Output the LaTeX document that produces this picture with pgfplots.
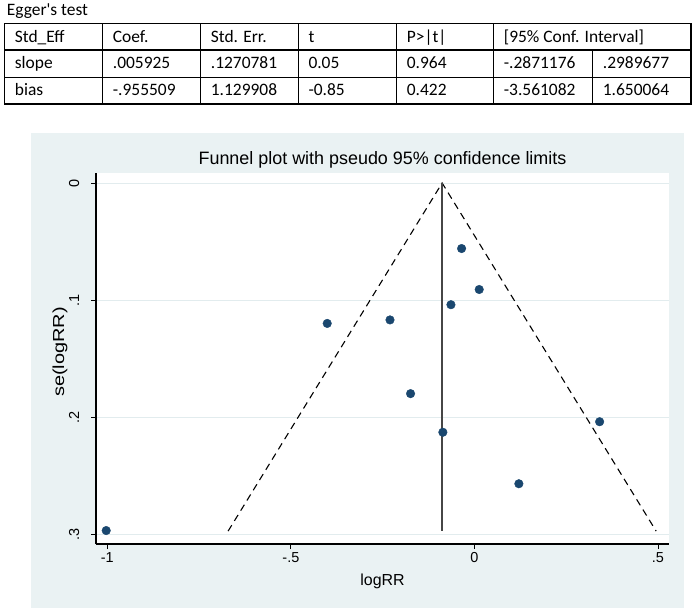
\documentclass[border=0pt]{standalone}
\usepackage{fontspec}
\setmainfont{Carlito}[Ligatures=TeXOff]
\newfontfamily\arial{Liberation Sans}
\usepackage{graphicx}
\usepackage{pgfplots}
\pgfplotsset{compat=1.18}
\definecolor{bgc}{RGB}{234,242,243}
\definecolor{gridc}{RGB}{226,236,238}
\definecolor{navy}{RGB}{26,71,111}
\definecolor{vline}{RGB}{70,70,70}
\begin{document}
\begin{tikzpicture}[x=1bp,y=-1bp]
\path[use as bounding box, fill=white] (0,0) rectangle (696,614);
% Egger's test table
\node[anchor=base west, inner sep=0, font=\fontsize{17.5}{19}\selectfont] at (6.7,15.5) {Egger's test};
\begin{scope}[line width=1.1bp]
\draw (4.7,23.3) rectangle (691,104);
\draw (4.7,50) -- (691,50);
\draw (4.7,77.3) -- (691,77.3);
\foreach \cx in {102.7,200.7,298.3,396.7,493.7} \draw (\cx,23.3) -- (\cx,104);
\draw (592.7,50) -- (592.7,104);
\end{scope}
\begin{scope}[every node/.style={anchor=base west, inner sep=0, font=\fontsize{17.5}{19}\selectfont}]
\node at (14.7,42.3) {Std\_Eff};
\node at (112.7,42.3) {Coef.};
\node at (210.7,42.3) {Std. Err.};
\node at (308.3,42.3) {t};
\node at (406.7,42.3) {P>|t|};
\node at (503.7,42.3) {[95\% Conf. Interval]};
\node at (14.7,69) {slope};
\node at (112.7,69) {.005925};
\node at (210.7,69) {.1270781};
\node at (308.3,69) {0.05};
\node at (406.7,69) {0.964};
\node at (503.7,69) {-.2871176};
\node at (602.7,69) {.2989677};
\node at (14.7,96) {bias};
\node at (112.7,96) {-.955509};
\node at (210.7,96) {1.129908};
\node at (308.3,96) {-0.85};
\node at (406.7,96) {0.422};
\node at (503.7,96) {-3.561082};
\node at (602.7,96) {1.650064};
\end{scope}
% graph region
\fill[bgc] (31,133) rectangle (684,608);
\node[anchor=base, inner sep=0, font=\arial\fontsize{18}{20}\selectfont] at (382.5,165) {Funnel plot with pseudo 95\% confidence limits};
\node[anchor=base, inner sep=0, font=\arial\fontsize{16}{18}\selectfont] at (382.5,585) {logRR};
\node[anchor=base, inner sep=0, rotate=90, font=\arial\fontsize{16}{18}\selectfont] at (64,352) {\scalebox{1.25}[1]{se(logRR)}};
\begin{axis}[
  at={(96bp,-544bp)}, anchor=south west,
  scale only axis, width=573bp, height=371bp,
  xmin=-1.0308, xmax=0.530, ymin=-0.3085, ymax=0.00855,
  y filter/.expression={-y},
  axis x line*=bottom, axis y line*=left,
  axis line style={line width=1.3bp, draw=black},
  axis background/.style={fill=white},
  tick align=outside, major tick length=5bp,
  tick style={black, line width=0.8bp},
  xtick={-1,-0.5,0,0.5}, xticklabels={-1,-.5,0,.5},
  ytick={-0.3,-0.2,-0.1,0}, yticklabels={.3,.2,.1,0},
  ymajorgrids, major grid style={gridc, line width=1bp},
  tick label style={font=\arial\fontsize{14.5}{16}\selectfont},
  yticklabel style={rotate=90, anchor=base, yshift=12bp},
  clip=false,
]
% se(logRR) values are given as positive numbers; the y filter plots them downward
\addplot[black, dash pattern=on 7bp off 5bp, line width=1.1bp] coordinates {(-0.671,0.2975) (-0.088,0) (0.495,0.2975)};
\addplot[vline, line width=1.8bp] coordinates {(-0.088,0) (-0.088,0.2975)};
\addplot[only marks, mark=*, mark size=4.3bp, navy, mark options={draw=navy, fill=navy}] coordinates {
(-1.003,0.297)
(-0.401,0.120)
(-0.230,0.117)
(-0.064,0.104)
(-0.035,0.056)
(0.013,0.091)
(-0.174,0.180)
(-0.086,0.213)
(0.341,0.204)
(0.121,0.257)
};
\end{axis}
\end{tikzpicture}
\end{document}
